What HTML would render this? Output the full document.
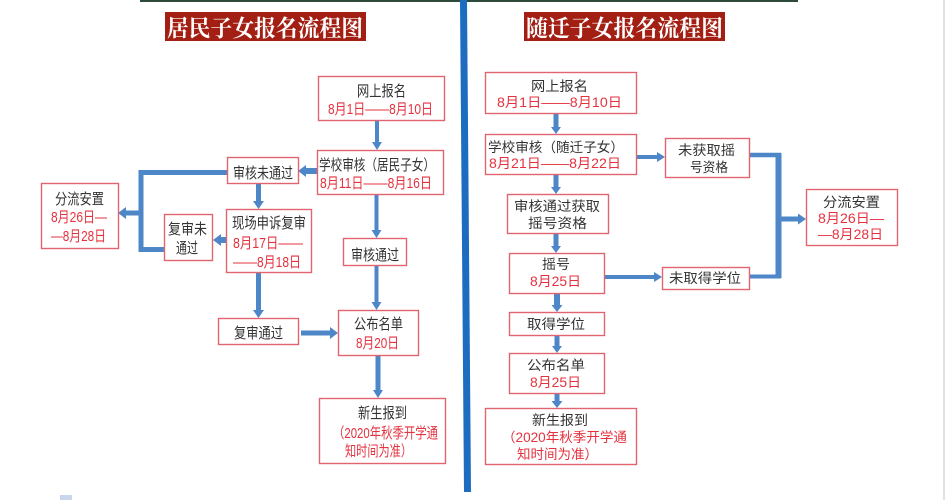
<!DOCTYPE html>
<html><head><meta charset="utf-8"><style>
html,body{margin:0;padding:0;background:#fff;}
svg{display:block;}
.b{fill:#fff;stroke:#e2646f;stroke-width:1.4;}
.tk{fill:#333;font-family:"Liberation Sans","Noto Sans CJK SC",sans-serif;}
.tr{fill:#e5323f;font-family:"Liberation Sans","Noto Sans CJK SC",sans-serif;}
.L{font-size:15px;}
.R{font-size:13.5px;}
.ln{stroke:#4d87c7;fill:none;}
.ah{fill:#4d87c7;}
.ttl{fill:#fff;font-family:"Liberation Serif","Noto Serif CJK SC",serif;font-weight:bold;font-size:23px;}
</style></head><body>
<svg width="945" height="500" viewBox="0 0 945 500" xmlns="http://www.w3.org/2000/svg">
<rect x="0" y="0" width="945" height="500" fill="#fff"/>
<!-- top line -->
<rect x="140" y="0" width="658" height="2" fill="#2d4a3a"/>
<!-- right edge line -->
<rect x="943" y="0" width="2" height="500" fill="#e2e2e2"/>
<!-- divider -->
<polygon points="460,0 467,0 471,492 464,492" fill="#1c6cc0"/>
<!-- small square bottom left -->
<rect x="60" y="495" width="12" height="5" fill="#c7d6ee"/>

<!-- titles -->
<rect x="165" y="12" width="201" height="29" fill="#a31f14"/>
<text class="ttl" x="167" y="36" textLength="196" lengthAdjust="spacingAndGlyphs">居民子女报名流程图</text>
<rect x="524" y="12" width="201" height="29" fill="#a31f14"/>
<text class="ttl" x="526" y="36" textLength="197" lengthAdjust="spacingAndGlyphs">随迁子女报名流程图</text>

<!-- ============ LEFT CONNECTORS ============ -->
<g>
<!-- 网上报名 -> 学校审核 -->
<line class="ln" stroke-width="4" x1="377" y1="121" x2="377" y2="143"/>
<polygon class="ah" points="372,142 382,142 377,150"/>
<!-- 学校审核 -> 审核未通过 -->
<line class="ln" stroke-width="6" x1="317" y1="171" x2="305" y2="171"/>
<polygon class="ah" points="306,165 306,177 298,171"/>
<!-- big bracket -->
<line class="ln" stroke-width="5" x1="227" y1="172.5" x2="139" y2="172.5"/>
<line class="ln" stroke-width="5" x1="141" y1="170" x2="141" y2="252"/>
<line class="ln" stroke-width="5" x1="139" y1="249.5" x2="164" y2="249.5"/>
<!-- arrow to 分流安置 -->
<line class="ln" stroke-width="5" x1="141" y1="213" x2="125" y2="213"/>
<polygon class="ah" points="126,207 126,219 118,213"/>
<!-- 审核未通过 -> 现场申诉复审 -->
<line class="ln" stroke-width="5" x1="258.5" y1="183" x2="258.5" y2="202"/>
<polygon class="ah" points="253,201 264,201 258.5,209"/>
<!-- 现场 -> 复审未通过 -->
<line class="ln" stroke-width="6" x1="226" y1="240" x2="220" y2="240"/>
<polygon class="ah" points="221,234 221,246 213,240"/>
<!-- 现场 -> 复审通过 -->
<line class="ln" stroke-width="5" x1="258.5" y1="273" x2="258.5" y2="311"/>
<polygon class="ah" points="253,310 264,310 258.5,318"/>
<!-- 复审通过 -> 公布名单 -->
<line class="ln" stroke-width="5" x1="301" y1="333" x2="331" y2="333"/>
<polygon class="ah" points="330,327 330,339 338,333"/>
<!-- 学校审核 -> 审核通过 -->
<line class="ln" stroke-width="4" x1="376.5" y1="195" x2="376.5" y2="231"/>
<polygon class="ah" points="371.5,230 381.5,230 376.5,238"/>
<!-- 审核通过 -> 公布名单 -->
<line class="ln" stroke-width="4" x1="376.5" y1="265" x2="376.5" y2="303"/>
<polygon class="ah" points="371.5,302 381.5,302 376.5,310"/>
<!-- 公布名单 -> 新生报到 -->
<line class="ln" stroke-width="5" x1="378" y1="355" x2="378" y2="391"/>
<polygon class="ah" points="373,390 383,390 378,398"/>
</g>

<!-- ============ RIGHT CONNECTORS ============ -->
<g>
<line class="ln" stroke-width="5" x1="556" y1="113" x2="556" y2="128"/>
<polygon class="ah" points="551,127 561,127 556,134"/>
<line class="ln" stroke-width="5" x1="556" y1="174" x2="556" y2="188"/>
<polygon class="ah" points="551,187 561,187 556,194"/>
<line class="ln" stroke-width="5" x1="556" y1="233" x2="556" y2="247"/>
<polygon class="ah" points="551,246 561,246 556,253"/>
<line class="ln" stroke-width="6" x1="557" y1="293" x2="557" y2="306"/>
<polygon class="ah" points="551.5,305 562.5,305 557,312"/>
<line class="ln" stroke-width="5" x1="557" y1="335" x2="557" y2="347"/>
<polygon class="ah" points="552,346 562,346 557,353"/>
<line class="ln" stroke-width="5" x1="557" y1="393" x2="557" y2="402"/>
<polygon class="ah" points="551.5,401 562.5,401 557,408"/>
<!-- 学校审核 -> 未获取 -->
<line class="ln" stroke-width="4" x1="636" y1="157" x2="658" y2="157"/>
<polygon class="ah" points="657,152 657,162 665,157"/>
<!-- bracket -->
<line class="ln" stroke-width="4.5" x1="749" y1="155" x2="781" y2="155"/>
<line class="ln" stroke-width="6" x1="778.5" y1="153" x2="778.5" y2="278"/>
<line class="ln" stroke-width="4" x1="749" y1="276.5" x2="781" y2="276.5"/>
<line class="ln" stroke-width="5" x1="781" y1="219" x2="799" y2="219"/>
<polygon class="ah" points="798,213.5 798,224.5 806,219"/>
<!-- 摇号 -> 未取得学位 -->
<line class="ln" stroke-width="4" x1="604" y1="277" x2="655" y2="277"/>
<polygon class="ah" points="654,272 654,282 662,277"/>
</g>

<!-- ============ LEFT BOXES ============ -->
<rect class="b" x="318.5" y="76.5" width="126" height="44"/>
<text class="tk L" x="357" y="96" textLength="49" lengthAdjust="spacingAndGlyphs">网上报名</text>
<text class="tr L" x="328" y="114" textLength="105" lengthAdjust="spacingAndGlyphs">8月1日——8月10日</text>

<rect class="b" x="317.5" y="150.5" width="126" height="44"/>
<text class="tk L" x="319" y="170" textLength="116" lengthAdjust="spacingAndGlyphs">学校审核（居民子女）</text>
<text class="tr L" x="320" y="188" textLength="112" lengthAdjust="spacingAndGlyphs">8月11日——8月16日</text>

<rect class="b" x="227.5" y="157.5" width="71" height="26"/>
<text class="tk L" x="233" y="178" textLength="60" lengthAdjust="spacingAndGlyphs">审核未通过</text>

<rect class="b" x="41.5" y="183.5" width="77" height="65"/>
<text class="tk L" x="55" y="204" textLength="49" lengthAdjust="spacingAndGlyphs">分流安置</text>
<text class="tr L" x="51" y="222" textLength="56" lengthAdjust="spacingAndGlyphs">8月26日—</text>
<text class="tr L" x="51" y="241" textLength="55" lengthAdjust="spacingAndGlyphs">—8月28日</text>

<rect class="b" x="164.5" y="214.5" width="48" height="46"/>
<text class="tk L" x="168" y="234" textLength="39" lengthAdjust="spacingAndGlyphs">复审未</text>
<text class="tk L" x="176" y="253" textLength="22" lengthAdjust="spacingAndGlyphs">通过</text>

<rect class="b" x="226.5" y="209.5" width="85" height="63"/>
<text class="tk L" x="232" y="228" textLength="74" lengthAdjust="spacingAndGlyphs">现场申诉复审</text>
<text class="tr L" x="233" y="248" textLength="70" lengthAdjust="spacingAndGlyphs">8月17日——</text>
<text class="tr L" x="233" y="267" textLength="68" lengthAdjust="spacingAndGlyphs">——8月18日</text>

<rect class="b" x="343.5" y="238.5" width="63" height="27"/>
<text class="tk L" x="351" y="260" textLength="48" lengthAdjust="spacingAndGlyphs">审核通过</text>

<rect class="b" x="218.5" y="318.5" width="80" height="26"/>
<text class="tk L" x="234" y="338" textLength="49" lengthAdjust="spacingAndGlyphs">复审通过</text>

<rect class="b" x="338.5" y="310.5" width="80" height="45"/>
<text class="tk L" x="354" y="329" textLength="49" lengthAdjust="spacingAndGlyphs">公布名单</text>
<text class="tr L" x="356" y="348" textLength="43" lengthAdjust="spacingAndGlyphs">8月20日</text>

<rect class="b" x="319.5" y="398.5" width="126" height="65"/>
<text class="tk L" x="358" y="418" textLength="49" lengthAdjust="spacingAndGlyphs">新生报到</text>
<text class="tr L" x="333" y="438" textLength="105" lengthAdjust="spacingAndGlyphs">（2020年秋季开学通</text>
<text class="tr L" x="345" y="456" textLength="67" lengthAdjust="spacingAndGlyphs">知时间为准）</text>

<!-- ============ RIGHT BOXES ============ -->
<rect class="b" x="485.5" y="72.5" width="151" height="41"/>
<text class="tk R" x="531" y="91" textLength="57" lengthAdjust="spacingAndGlyphs">网上报名</text>
<text class="tr R" x="497" y="107" textLength="125" lengthAdjust="spacingAndGlyphs">8月1日——8月10日</text>

<rect class="b" x="485.5" y="134.5" width="151" height="40"/>
<text class="tk R" x="488" y="152" textLength="136" lengthAdjust="spacingAndGlyphs">学校审核（随迁子女）</text>
<text class="tr R" x="489" y="168" textLength="132" lengthAdjust="spacingAndGlyphs">8月21日——8月22日</text>

<rect class="b" x="665.5" y="138.5" width="84" height="39"/>
<text class="tk R" x="678" y="155" textLength="57" lengthAdjust="spacingAndGlyphs">未获取摇</text>
<text class="tk R" x="690" y="172" textLength="38" lengthAdjust="spacingAndGlyphs">号资格</text>

<rect class="b" x="507.5" y="194.5" width="101" height="39"/>
<text class="tk R" x="514" y="211" textLength="86" lengthAdjust="spacingAndGlyphs">审核通过获取</text>
<text class="tk R" x="528" y="228" textLength="59" lengthAdjust="spacingAndGlyphs">摇号资格</text>

<rect class="b" x="806.5" y="189.5" width="91" height="56"/>
<text class="tk R" x="823" y="207" textLength="57" lengthAdjust="spacingAndGlyphs">分流安置</text>
<text class="tr R" x="818" y="223" textLength="66" lengthAdjust="spacingAndGlyphs">8月26日—</text>
<text class="tr R" x="818" y="239" textLength="65" lengthAdjust="spacingAndGlyphs">—8月28日</text>

<rect class="b" x="509.5" y="253.5" width="95" height="40"/>
<text class="tk R" x="542" y="269" textLength="28" lengthAdjust="spacingAndGlyphs">摇号</text>
<text class="tr R" x="530" y="286" textLength="51" lengthAdjust="spacingAndGlyphs">8月25日</text>

<rect class="b" x="662.5" y="267.5" width="87" height="22"/>
<text class="tk R" x="669" y="283" textLength="72" lengthAdjust="spacingAndGlyphs">未取得学位</text>

<rect class="b" x="509.5" y="312.5" width="95" height="23"/>
<text class="tk R" x="527" y="329" textLength="58" lengthAdjust="spacingAndGlyphs">取得学位</text>

<rect class="b" x="509.5" y="353.5" width="95" height="40"/>
<text class="tk R" x="527" y="370" textLength="58" lengthAdjust="spacingAndGlyphs">公布名单</text>
<text class="tr R" x="530" y="387" textLength="51" lengthAdjust="spacingAndGlyphs">8月25日</text>

<rect class="b" x="485.5" y="408.5" width="151" height="56"/>
<text class="tk R" x="532" y="425" textLength="56" lengthAdjust="spacingAndGlyphs">新生报到</text>
<text class="tr R" x="502" y="442" textLength="125" lengthAdjust="spacingAndGlyphs">（2020年秋季开学通</text>
<text class="tr R" x="517" y="459" textLength="81" lengthAdjust="spacingAndGlyphs">知时间为准）</text>
</svg>
</body></html>
